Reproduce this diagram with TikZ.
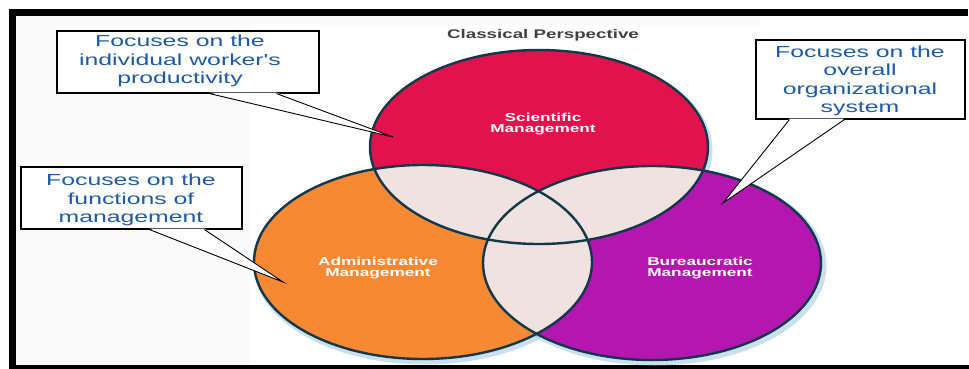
\documentclass[tikz,border=0pt]{standalone}
\usepackage{fontspec}
\setmainfont{Liberation Sans}
\newfontfamily\boxfont[FakeStretch=1.55]{Liberation Sans}
\newfontfamily\lblfont[FakeStretch=1.5]{Liberation Sans Bold}
\usetikzlibrary{calc}
\definecolor{cred}{RGB}{226,18,76}
\definecolor{corange}{RGB}{247,136,52}
\definecolor{cpurple}{RGB}{180,22,176}
\definecolor{clight}{RGB}{240,226,222}
\definecolor{cline}{RGB}{18,56,76}
\definecolor{cblue}{RGB}{30,90,165}
\definecolor{cgray}{RGB}{64,64,64}
\definecolor{chalo}{RGB}{160,200,222}
\tikzset{
  ell/.style={x radius=169, y radius=97},
  outline/.style={draw=cline, line width=2.4pt},
  halo/.style={draw=chalo, line width=5pt, opacity=0.55},
  lbl/.style={font=\lblfont\fontsize{11.5}{11}\selectfont, text=white, align=center, inner sep=0pt},
  ttl/.style={font=\lblfont\fontsize{12.5}{13}\selectfont, text=cgray, inner sep=0pt},
  cbox/.style={draw=black, line width=1.1pt, fill=white, inner sep=0pt},
  ctext/.style={font=\boxfont\fontsize{16}{18.3}\selectfont, text=cblue, align=center, inner sep=0pt},
  pointer/.style={draw=black, line width=0.9pt}
}
\begin{document}
\begin{tikzpicture}[x=1pt,y=-1pt]
\useasboundingbox (0,0) rectangle (969,369);
\fill[white] (0,0) rectangle (969,369);
% faint textured background
\fill[black!2] (16,16) rectangle (250,365);
\fill[black!2] (16,16) rectangle (760,25);
% frame
\fill[black] (9,9) rectangle (968,16);
\fill[black] (9,9) rectangle (16,369);
\fill[black] (9,365) rectangle (969,369);

% centres
\coordinate (cR) at (539,147);
\coordinate (cO) at (423,262);
\coordinate (cP) at (652,263);

% halo
\draw[halo] ($(cR)+(2,3)$) ellipse [ell];
\draw[halo] ($(cO)+(2,3)$) ellipse [ell];
\draw[halo] ($(cP)+(3,3)$) ellipse [ell];

% fills
\fill[cred] (cR) ellipse [ell];
\fill[corange] (cO) ellipse [ell];
\fill[cpurple] (cP) ellipse [ell];
\begin{scope}
  \clip (cR) ellipse [ell];
  \fill[clight] (cO) ellipse [ell];
  \fill[clight] (cP) ellipse [ell];
\end{scope}
\begin{scope}
  \clip (cO) ellipse [ell];
  \fill[clight] (cP) ellipse [ell];
\end{scope}
\draw[outline] (cR) ellipse [ell];
\draw[outline] (cO) ellipse [ell];
\draw[outline] (cP) ellipse [ell];

% labels
\node[ttl] (title) at (543,35) {Classical Perspective};
\node[lbl] (sci) at (543,124) {Scientific\\Management};
\node[lbl] (adm) at (378,268) {Administrative\\Management};
\node[lbl] (bur) at (700,268) {Bureaucratic\\Management};

% callout 1
\node[cbox, minimum width=262, minimum height=62] (b1) at (188,62) {};
\node[ctext] (t1) at (180,61) {Focuses on the\\individual worker's\\productivity};
\coordinate (tip1) at (393,137);
\fill[white] ($(b1.south west)+(153,-1)$) -- (tip1) -- ($(b1.south west)+(220,-1)$) -- cycle;
\draw[pointer] ($(b1.south west)+(153,0)$) -- (tip1) -- ($(b1.south west)+(220,0)$);

% callout 2
\node[cbox, minimum width=221, minimum height=62] (b2) at (131.5,198) {};
\node[ctext] (t2) at (131,200) {Focuses on the\\functions of\\management};
\coordinate (tip2) at (283,282);
\fill[white] ($(b2.south west)+(129,-1)$) -- (tip2) -- ($(b2.south west)+(184,-1)$) -- cycle;
\draw[pointer] ($(b2.south west)+(129,0)$) -- (tip2) -- ($(b2.south west)+(184,0)$);

% callout 3
\node[cbox, minimum width=209, minimum height=79] (b3) at (860.5,79.5) {};
\node[ctext] (t3) at (860,81) {Focuses on the\\overall\\organizational\\system};
\coordinate (tip3) at (723,203);
\fill[white] ($(b3.south west)+(34,-1)$) -- (tip3) -- ($(b3.south west)+(89,-1)$) -- cycle;
\draw[pointer] ($(b3.south west)+(34,0)$) -- (tip3) -- ($(b3.south west)+(89,0)$);
\end{tikzpicture}
\end{document}
